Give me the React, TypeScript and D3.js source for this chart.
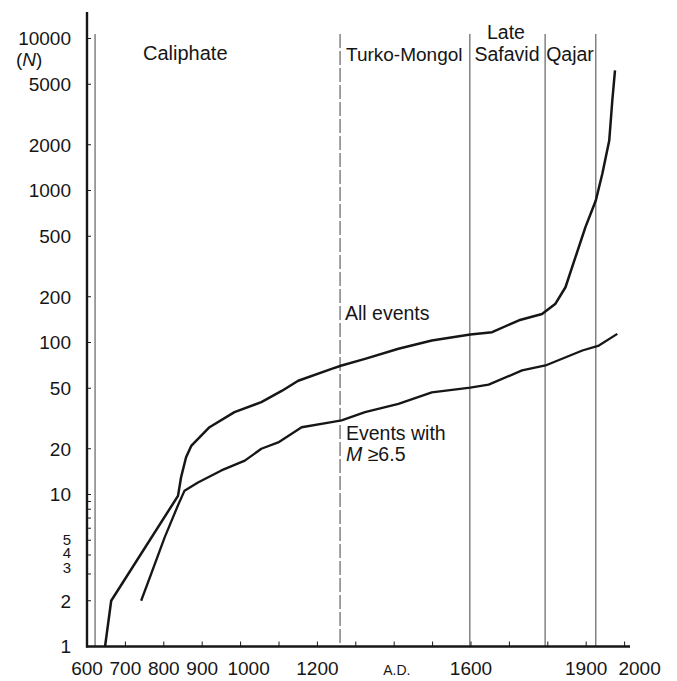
import * as d3 from 'd3';

// All events (cumulative number)
const allYears = [647, 663, 837, 845, 858, 872, 919, 984, 1054, 1107, 1150, 1237, 1263, 1324, 1411, 1498, 1598, 1655, 1725, 1785, 1820, 1846, 1872, 1898, 1925, 1942, 1960, 1968, 1975];
const allCounts = [1, 2, 9.8, 13, 17.6, 21, 27.7, 34.8, 40.5, 48, 56, 67, 70.6, 78, 91, 103, 113, 117, 140, 154, 180, 231, 364, 574, 860, 1290, 2130, 3910, 6160];

// Events with M >= 6.5
const bigYears = [741, 767, 802, 837, 854, 889, 950, 1011, 1054, 1098, 1159, 1237, 1263, 1324, 1411, 1498, 1598, 1646, 1733, 1794, 1890, 1933, 1981];
const bigCounts = [2, 3, 5.2, 8.5, 10.6, 12, 14.4, 16.7, 20, 22, 27.7, 29.9, 30.7, 34.8, 39.5, 47, 50.4, 52.8, 65.5, 70.6, 88.6, 95.5, 114];

// period boundaries
const periodYears = [621, 1259, 1597, 1793, 1925];
const periodDashed = [false, true, false, false, false];

const xTickYears = [700, 800, 900, 1000, 1100, 1200, 1300, 1400, 1500, 1600, 1700, 1800, 1900, 2000];
const xLabelYears = [600, 700, 800, 900, 1000, 1200, 1600, 1900, 2000];
const yTicks = [1, 2, 3, 4, 5, 6, 7, 8, 9, 10, 20, 50, 100, 200, 500, 1000, 2000, 5000, 10000];
const yLabels = [1, 2, 3, 4, 5, 10, 20, 50, 100, 200, 500, 1000, 2000, 5000, 10000];

const W = 677;
const H = 681;
const FONT = '"Liberation Sans", Arial, Helvetica, sans-serif';
const INK = '#161616';

// crowded labels are nudged a little, as in the print
const xLabelShift = (t: number) => (t === 1000 ? 8 : t === 2000 ? 15 : 0);
const yLabelShift = (t: number) => (t === 5 ? -1 : t === 4 ? -2 : t === 3 ? -6 : 0);
const yLabelSize = (t: number) => (t >= 3 && t <= 5 ? 15 : 19);

export default function App() {
  const x = d3.scaleLinear().domain([600, 2000]).range([87, 624.6]);
  const y = d3.scaleLog().domain([1, 10000]).range([646.5, 38.5]);

  const line = d3
    .line<[number, number]>()
    .x((d) => x(d[0]))
    .y((d) => y(d[1]))
    .curve(d3.curveLinear);

  const allPts = allYears.map((yr, i) => [yr, allCounts[i]] as [number, number]);
  const bigPts = bigYears.map((yr, i) => [yr, bigCounts[i]] as [number, number]);

  const axisY = y(1);
  const axisX = x(600);

  return (
    <svg
      width={W}
      height={H}
      style={{ position: 'absolute', left: 0, top: 0, background: '#fff' }}
      fontFamily={FONT}
      fill={INK}
    >
      {/* period boundaries */}
      {periodYears.map((yr, i) => (
        <line
          key={yr}
          x1={x(yr)}
          x2={x(yr)}
          y1={34}
          y2={axisY}
          stroke="#555"
          strokeWidth={1.1}
          strokeDasharray={periodDashed[i] ? '14,3' : undefined}
        />
      ))}

      {/* period labels */}
      <g fontSize={19.5}>
        <text x={143} y={60} fontSize={20}>Caliphate</text>
        <text x={346} y={61} fontSize={19}>Turko-Mongol</text>
        <text x={506} y={39} textAnchor="middle">Late</text>
        <text x={507} y={61} textAnchor="middle">Safavid</text>
        <text x={570} y={61} textAnchor="middle">Qajar</text>
      </g>

      {/* curves */}
      <path d={line(allPts) ?? ''} fill="none" stroke={INK} strokeWidth={2.5} strokeLinejoin="round" />
      <path d={line(bigPts) ?? ''} fill="none" stroke={INK} strokeWidth={2.3} strokeLinejoin="round" />

      {/* curve labels */}
      <g fontSize={19.5}>
        <text x={345} y={320}>All events</text>
        <text x={346} y={440}>Events with</text>
        <text x={346} y={461}>
          <tspan fontStyle="italic">M</tspan> ≥6.5
        </text>
      </g>

      {/* axes */}
      <line x1={axisX} x2={axisX} y1={12} y2={axisY + 1} stroke={INK} strokeWidth={2.4} />
      <line x1={axisX - 1} x2={630} y1={axisY} y2={axisY} stroke={INK} strokeWidth={2.4} />

      {yTicks.map((t) => (
        <line key={t} x1={axisX} x2={axisX + 4} y1={y(t)} y2={y(t)} stroke={INK} strokeWidth={1} />
      ))}
      {xTickYears.map((t) => (
        <line key={t} x1={x(t)} x2={x(t)} y1={axisY} y2={axisY - 5} stroke={INK} strokeWidth={1} />
      ))}

      <g textAnchor="end">
        {yLabels.map((t) => (
          <text key={t} x={71} y={y(t) + yLabelShift(t)} dy="0.36em" fontSize={yLabelSize(t)}>
            {t}
          </text>
        ))}
      </g>
      <text x={16} y={66} fontSize={19}>
        (<tspan fontStyle="italic">N</tspan>)
      </text>

      <g fontSize={19} textAnchor="middle">
        {xLabelYears.map((t) => (
          <text key={t} x={x(t) + xLabelShift(t)} y={675}>
            {t}
          </text>
        ))}
        <text x={x(1407)} y={675} fontSize={14}>A.D.</text>
      </g>
    </svg>
  );
}
